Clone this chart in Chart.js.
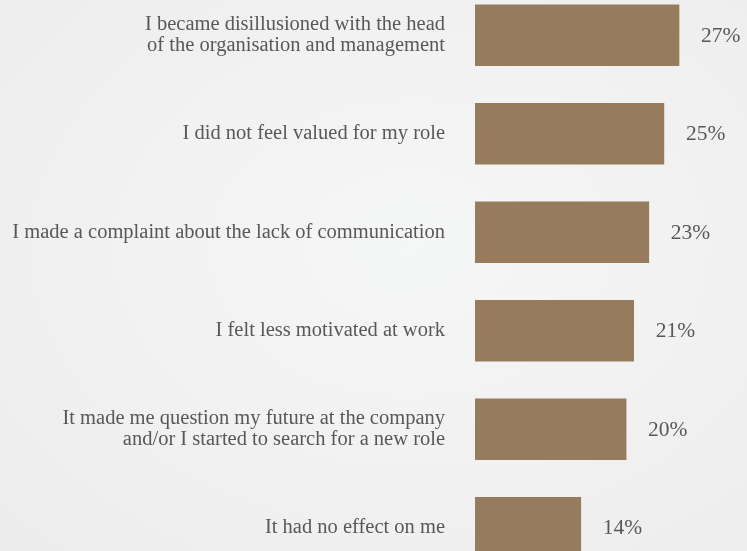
<!DOCTYPE html>
<html>
<head>
<meta charset="utf-8">
<script src="https://cdn.jsdelivr.net/npm/chart.js@4/dist/chart.umd.min.js"></script>
<style>
  html, body { margin: 0; padding: 0; width: 747px; height: 551px; overflow: hidden; }
  body {
    background: radial-gradient(ellipse at 55% 45%, #f5f6f6 0%, #f0f1f0 55%, #ebeceb 100%);
    position: relative;
  }
  #wrap { position: absolute; left: 0; top: -14px; width: 747px; height: 591px; }
</style>
</head>
<body>
<div id="wrap"><canvas id="c"></canvas></div>
<script>
// Survey responses: effect on the respondent
const categories = [
  ["I became disillusioned with the head", "of the organisation and management"],
  "I did not feel valued for my role",
  "I made a complaint about the lack of communication",
  "I felt less motivated at work",
  ["It made me question my future at the company", "and/or I started to search for a new role"],
  "It had no effect on me"
];
const shares = [27, 25, 23, 21, 20, 14];

const textColor = '#585858';
const serif = "'Liberation Serif', 'DejaVu Serif', serif";

// Percent labels written just past the end of each bar
const valueLabels = {
  id: 'valueLabels',
  afterDatasetsDraw(chart) {
    const ctx = chart.ctx;
    const meta = chart.getDatasetMeta(0);
    ctx.save();
    ctx.font = '21.5px ' + serif;
    ctx.fillStyle = textColor;
    ctx.textAlign = 'left';
    ctx.textBaseline = 'middle';
    meta.data.forEach((bar, i) => {
      ctx.fillText(shares[i] + '%', bar.x + 22, bar.y + 1);
    });
    ctx.restore();
  }
};

new Chart(document.getElementById('c'), {
  type: 'bar',
  data: {
    labels: categories,
    datasets: [{
      data: shares,
      backgroundColor: '#967c5c',
      borderWidth: 0,
      barThickness: 61
    }]
  },
  options: {
    indexAxis: 'y',
    responsive: true,
    maintainAspectRatio: false,
    animation: false,
    layout: { padding: 0 },
    plugins: { legend: { display: false }, tooltip: { enabled: false } },
    scales: {
      x: {
        min: 0, max: 36,
        display: false,
        grid: { display: false }
      },
      y: {
        grid: { display: false, drawTicks: false },
        border: { display: false },
        afterFit(scale) {
          scale.width = 475;
          scale.paddingTop = 0;
          scale.paddingBottom = 0;
        },
        ticks: {
          color: textColor,
          padding: 30,
          font: { family: serif, size: 20.5, lineHeight: 1.03 }
        }
      }
    }
  },
  plugins: [valueLabels]
});
</script>
</body>
</html>
